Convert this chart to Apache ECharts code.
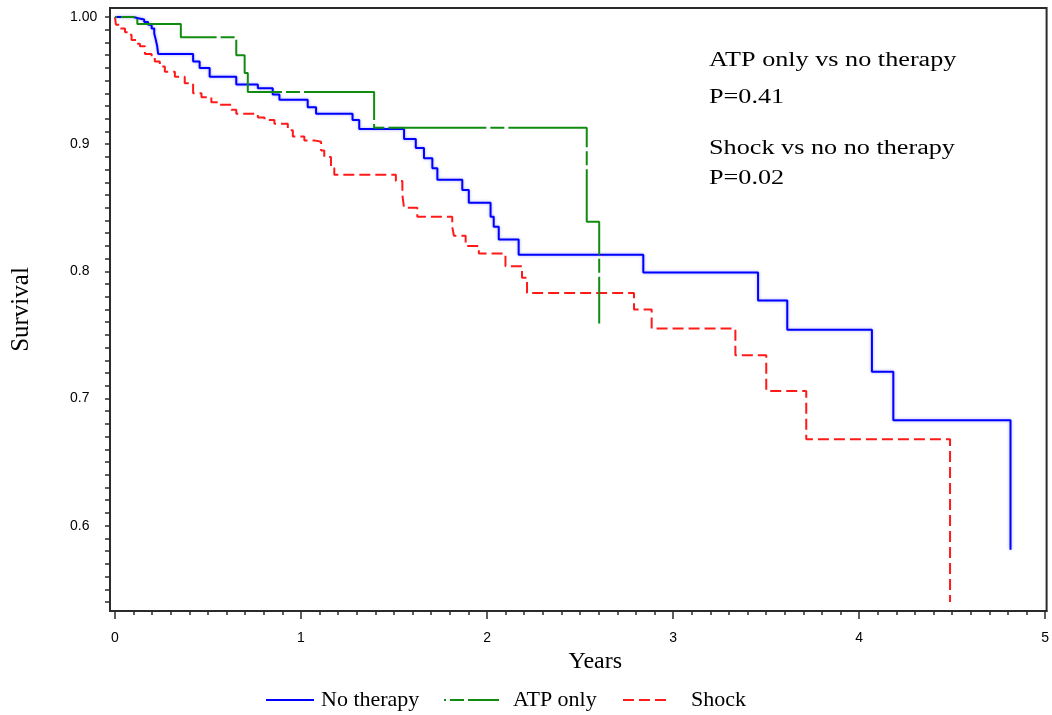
<!DOCTYPE html>
<html>
<head>
<meta charset="utf-8">
<title>Survival by therapy</title>
<script src="https://cdn.jsdelivr.net/npm/echarts@6/dist/echarts.min.js"></script>
<style>
  html, body { margin: 0; padding: 0; background: #fff; }
  #chart { width: 1052px; height: 715px; }
</style>
</head>
<body>
<div id="chart"></div>
<script>
// Kaplan-Meier step points: time in years, survival after each event
const noTherapyYears = [0, 0.098, 0.125, 0.157, 0.178, 0.197, 0.211, 0.218, 0.227, 0.232,
  0.420, 0.455, 0.509, 0.652, 0.768, 0.848, 0.884, 1.036, 1.081, 1.277,
  1.313, 1.554, 1.617, 1.661, 1.706, 1.733, 1.867, 1.902, 2.019, 2.036,
  2.063, 2.170, 2.840, 3.457, 3.614, 4.069, 4.184, 4.814];
const noTherapySurv = [1.000, 0.999, 0.998, 0.996, 0.994, 0.991, 0.987, 0.983, 0.977, 0.971,
  0.965, 0.960, 0.953, 0.947, 0.944, 0.939, 0.935, 0.929, 0.924, 0.919,
  0.912, 0.904, 0.897, 0.889, 0.881, 0.872, 0.864, 0.854, 0.843, 0.835,
  0.825, 0.813, 0.799, 0.777, 0.754, 0.721, 0.683, 0.581];

const atpYears = [0, 0.120, 0.354, 0.652, 0.697, 0.714, 1.393, 2.536, 2.603];
const atpSurv  = [1.000, 0.9945, 0.984, 0.970, 0.956, 0.941, 0.913, 0.839, 0.759];

const shockYears = [0, 0.005, 0.027, 0.054, 0.071, 0.089, 0.116, 0.134, 0.161, 0.197,
  0.214, 0.241, 0.268, 0.322, 0.375, 0.420, 0.465, 0.518, 0.563, 0.625,
  0.652, 0.768, 0.804, 0.857, 0.929, 0.956, 1.018, 1.072, 1.108, 1.125,
  1.161, 1.179, 1.510, 1.545, 1.554, 1.625, 1.813, 1.822, 1.885, 1.956,
  2.099, 2.188, 2.215, 2.790, 2.885, 3.335, 3.501, 3.716, 4.489];
const shockSurv = [1.000, 0.994, 0.991, 0.988, 0.986, 0.982, 0.979, 0.977, 0.971, 0.969,
  0.965, 0.961, 0.957, 0.953, 0.948, 0.940, 0.937, 0.933, 0.931, 0.927,
  0.924, 0.921, 0.919, 0.916, 0.911, 0.906, 0.903, 0.902, 0.895, 0.890,
  0.881, 0.876, 0.871, 0.860, 0.850, 0.843, 0.835, 0.828, 0.820, 0.814,
  0.804, 0.795, 0.783, 0.770, 0.755, 0.734, 0.706, 0.668, 0.540];

const seriesNames = ['No therapy', 'ATP only', 'Shock'];

// axis ticks and labels
const xTickValues = [0, 1, 2, 3, 4, 5];
const xTickLabels = ['0', '1', '2', '3', '4', '5'];
const yTickValues = [0.6, 0.7, 0.8, 0.9, 1.0];
const yTickLabels = ['0.6', '0.7', '0.8', '0.9', '1.00'];

const annotationLines = ['ATP only vs no therapy', 'P=0.41', 'Shock vs no no therapy', 'P=0.02'];

function zip(xs, ys) { return xs.map((x, i) => [x, ys[i]]); }

// minor tick positions: every 0.1 year, every 0.01 of survival
const xMinor = [];
for (let i = 0; i <= 50; i++) xMinor.push(+(i * 0.1).toFixed(1));
const yMinor = [];
for (let i = 54; i <= 100; i++) yMinor.push(+(i / 100).toFixed(2));

const serif = "'Liberation Serif', 'Times New Roman', serif";
const sans = "'Liberation Sans', Arial, sans-serif";
const axisColor = '#2b2b2b';

const chart = echarts.init(document.getElementById('chart'), null, { renderer: 'canvas' });

const annotationY = [60.7, 97.5, 148.8, 178.3];

const legendBase = {
  top: 689, itemHeight: 14, itemGap: 0, padding: 0,
  itemStyle: { color: 'transparent', borderColor: 'transparent', borderWidth: 0 }
};

chart.setOption({
  animation: false,
  backgroundColor: '#ffffff',
  grid: {
    left: 110, right: 2, top: 8, bottom: 104,
    show: true, borderColor: axisColor, borderWidth: 2, backgroundColor: 'transparent'
  },
  xAxis: [
    {
      type: 'value', min: -0.0268, max: 5.008,
      name: 'Years', nameLocation: 'middle', nameGap: 34,
      nameTextStyle: { fontFamily: serif, fontSize: 24, color: '#000', padding: [0, 0, 0, 34] },
      axisLine: { show: true, onZero: false, lineStyle: { color: axisColor, width: 2 } },
      axisTick: { show: true, customValues: xTickValues, length: 8, inside: false,
                  lineStyle: { color: axisColor, width: 1.5 } },
      axisLabel: { show: true, customValues: xTickValues, margin: 20,
                   formatter: v => xTickLabels[xTickValues.indexOf(Math.round(v))] ?? '',
                   fontFamily: sans, fontSize: 14, color: '#000' },
      splitLine: { show: false }
    },
    {
      type: 'value', min: -0.0268, max: 5.008, position: 'bottom',
      axisLine: { show: false, onZero: false },
      axisTick: { show: true, customValues: xMinor, length: 4,
                  lineStyle: { color: axisColor, width: 1.5 } },
      axisLabel: { show: false },
      splitLine: { show: false }
    }
  ],
  yAxis: {
    type: 'value', min: 0.5329, max: 1.0071,
    name: 'Survival', nameLocation: 'middle', nameGap: 76, nameRotate: 90,
    nameTextStyle: { fontFamily: serif, fontSize: 25, color: '#000' },
    axisLine: { show: true, onZero: false, lineStyle: { color: axisColor, width: 2 } },
    axisTick: { show: true, customValues: yMinor, length: 5,
                lineStyle: { color: axisColor, width: 1.5 } },
    axisLabel: { show: true, customValues: yTickValues, margin: 40, align: 'left',
                 formatter: v => {
                   const i = yTickValues.findIndex(t => Math.abs(t - v) < 1e-6);
                   return i >= 0 ? yTickLabels[i] : '';
                 },
                 fontFamily: sans, fontSize: 14, color: '#000' },
    splitLine: { show: false }
  },
  legend: [
    Object.assign({}, legendBase, { data: [seriesNames[0]], left: 265, itemWidth: 48,
      textStyle: { fontFamily: serif, fontSize: 22, color: '#000', padding: [0, 0, 0, 2] } }),
    Object.assign({}, legendBase, { data: [seriesNames[1]], left: 443, itemWidth: 55,
      textStyle: { fontFamily: serif, fontSize: 22, color: '#000', padding: [0, 0, 0, 9] } }),
    Object.assign({}, legendBase, { data: [seriesNames[2]], left: 622, itemWidth: 43,
      textStyle: { fontFamily: serif, fontSize: 22, color: '#000', padding: [0, 0, 0, 20] } })
  ],
  graphic: annotationLines.map((t, i) => ({
    type: 'text', x: 709, y: annotationY[i], scaleX: 1.31, silent: true,
    style: { text: t, fontFamily: serif, fontSize: 20, fill: '#000',
             align: 'left', verticalAlign: 'middle' }
  })),
  series: [
    {
      name: seriesNames[0], type: 'line', step: 'end', symbol: 'none',
      data: zip(noTherapyYears, noTherapySurv),
      color: '#0000ff',
      lineStyle: { color: '#0000ff', width: 2, type: 'solid',
                   shadowColor: 'rgba(60,60,255,0.45)', shadowBlur: 3 },
      z: 3
    },
    {
      name: seriesNames[1], type: 'line', step: 'end', symbol: 'none',
      data: zip(atpYears, atpSurv),
      color: '#118c11',
      lineStyle: { color: '#118c11', width: 2, type: [98, 4, 14, 4], dashOffset: 96 },
      z: 4
    },
    {
      name: seriesNames[2], type: 'line', step: 'end', symbol: 'none',
      data: zip(shockYears, shockSurv),
      color: '#ff1a1a',
      lineStyle: { color: '#ff1a1a', width: 2, type: [11, 5] },
      z: 2
    }
  ]
});
</script>
</body>
</html>
